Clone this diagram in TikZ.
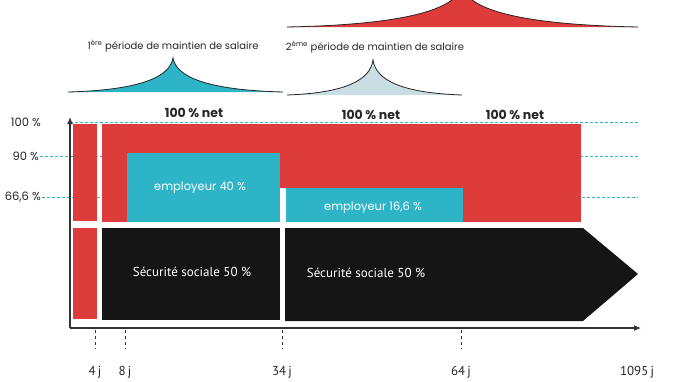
\documentclass[tikz,border=0pt]{standalone}
\usepackage{fontspec}
\setmainfont{Poppins}
\newfontfamily\narrowfont{PT Sans}
\usetikzlibrary{arrows.meta, positioning}
\definecolor{salred}{HTML}{DE3B3B}
\definecolor{salcyan}{HTML}{2DB4C6}
\definecolor{salpale}{HTML}{C9DEE2}
\definecolor{salblack}{HTML}{151515}
\tikzset{
x=1pt, y=-1pt, % one unit per pixel of the scan, y going down
gainbar/.style={fill=salred}, % the 100 % net blocks
employer/.style={fill=salcyan}, % the part paid by the employer
secu/.style={fill=salblack}, % the part paid by the social security
level/.style={salcyan, line width=1pt, dash pattern=on 3pt off 2pt}, % the dashed levels
daytick/.style={black!80, line width=0.9pt, dash pattern=on 3pt off 3pt},
axis/.style={draw=black!80, line width=1.1pt, -{Latex[length=7pt,width=6pt]}},
curve/.style={draw=black!85, line width=0.8pt},
toplabel/.style={font=\fontsize{10}{12}\selectfont, text=black!85},
netlabel/.style={font=\fontsize{12.5}{14}\selectfont\bfseries, text=black!85},
inlabel/.style={font=\fontsize{11.5}{13}\selectfont, text=white},
seclabel/.style={font=\narrowfont\fontsize{13}{15}\selectfont, text=white},
pctlabel/.style={font=\fontsize{11.5}{13}\selectfont, text=black!85, anchor=east, inner sep=1pt},
daylabel/.style={font=\narrowfont\fontsize{13}{15}\selectfont, text=black!85},
}
% cusp: left x, peak x, right x, base y, top y, colour
\newcommand{\cusp}[6]{%
  \fill[#6] (#1,#4) .. controls ({#1+0.7*(#2-#1)},{#4-0.06*(#4-#5)}) and ({#2-0.03*(#2-#1)},{#4-0.45*(#4-#5)}) .. (#2,#5)
    .. controls ({#2+0.03*(#3-#2)},{#4-0.45*(#4-#5)}) and ({#3-0.7*(#3-#2)},{#4-0.06*(#4-#5)}) .. (#3,#4) -- cycle;
  \draw[curve] (#1,#4) .. controls ({#1+0.7*(#2-#1)},{#4-0.06*(#4-#5)}) and ({#2-0.03*(#2-#1)},{#4-0.45*(#4-#5)}) .. (#2,#5)
    .. controls ({#2+0.03*(#3-#2)},{#4-0.45*(#4-#5)}) and ({#3-0.7*(#3-#2)},{#4-0.06*(#4-#5)}) .. (#3,#4);
}

\begin{document}
\begin{tikzpicture}
  \useasboundingbox (0,0) rectangle (678,381);
  \clip (0,0) rectangle (678,381);

  % Periods
  \cusp{287}{462}{638}{27}{-14}{salred}
  \cusp{68}{173}{283}{92}{58}{salcyan}
  \cusp{287}{373}{462}{95}{60}{salpale}
  \node[toplabel] (period1) at (173,46) {1\textsuperscript{ère} période de maintien de salaire};
  \node[toplabel] (period2) at (375,47) {2\textsuperscript{ème} période de maintien de salaire};

  % Axes
  \coordinate (o) at (70,328);
  \coordinate (ytip) at (70,117);
  \coordinate (xtip) at (641,328);

  % Levels
  \node[pctlabel] (p100) at (42,122) {100 \%};
  \node[pctlabel] (p90) at (40,156) {90 \%};
  \node[pctlabel] (p66) at (42,197) {66,6 \%};
  \coordinate (e100) at (638,122);
  \coordinate (e90) at (638,156);
  \coordinate (e66) at (638,197);
  \draw[level] (70,122) -- (e100);
  \draw[level] (p90.east) -- (e90);
  \draw[level] (p66.east) -- (e66);

  % Blocks
  \fill[gainbar] (73,124) rectangle (97,221);
  \fill[gainbar] (73,228) rectangle (97,319);
  \fill[gainbar] (102,124) rectangle (581,222);
  \fill[employer] (127,153) rectangle (280,222);
  \fill[white] (280,188) rectangle (286,222);
  \fill[employer] (286,188) rectangle (463,222);
  \fill[secu] (102,228) rectangle (280,320);
  \fill[secu] (285,228) -- (583,228) -- (638,274) -- (583,321) -- (285,321) -- cycle;

  % Texts
  \node[netlabel] (net1) at (194,113) {100 \% net};
  \node[netlabel] (net2) at (371,115) {100 \% net};
  \node[netlabel] (net3) at (515,115) {100 \% net};
  \node[inlabel] (emp1) at (200,188) {employeur 40 \%};
  \node[inlabel] (emp2) at (373,208) {employeur 16,6 \%};
  \node[seclabel] (sec1) at (192,272) {Sécurité sociale 50 \%};
  \node[seclabel] (sec2) at (366,273) {Sécurité sociale 50 \%};

  \draw[axis] (o) -- (ytip);
  \draw[axis] (o) -- (xtip);

  % Days
  \foreach \d/\x in {4/95, 8/125, 34/282, 64/461} {
    \coordinate (t\d) at (\x,330);
    \node[daylabel] (d\d) at (\x,372) {\d\,j};
    \draw[daytick] (t\d) -- (\x,349);
  }
  \node[daylabel] (d1095) at (637,372) {1095\,j};
\end{tikzpicture}
\end{document}
